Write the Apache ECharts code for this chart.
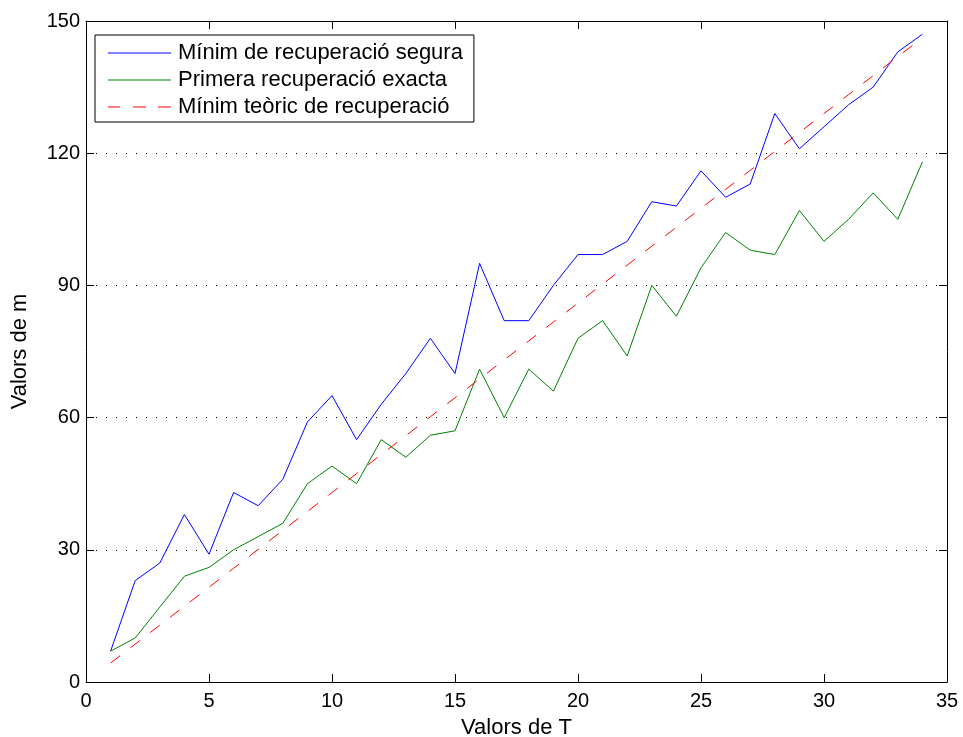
<!DOCTYPE html>
<html>
<head>
<meta charset="utf-8">
<script src="https://cdn.jsdelivr.net/npm/echarts@6/dist/echarts.min.js"></script>
<style>
  html, body { margin: 0; padding: 0; background: #fff; }
  #chart { width: 963px; height: 737px; }
</style>
</head>
<body>
<div id="chart"></div>
<script>
// Values of T on the horizontal axis
var tValues = [1, 2, 3, 4, 5, 6, 7, 8, 9, 10, 11, 12, 13, 14, 15, 16, 17,
               18, 19, 20, 21, 22, 23, 24, 25, 26, 27, 28, 29, 30, 31, 32, 33, 34];

// Minimum safe recovery
var minimSegura = [7, 23, 27, 38, 29, 43, 40, 46, 59, 65, 55, 63, 70, 78, 70, 95, 82,
                   82, 90, 97, 97, 100, 109, 108, 116, 110, 113, 129, 121, 126, 131, 135, 143, 147];

// First exact recovery
var primeraExacta = [7, 10, 17, 24, 26, 30, 33, 36, 45, 49, 45, 55, 51, 56, 57, 71, 60,
                     71, 66, 78, 82, 74, 90, 83, 94, 102, 98, 97, 107, 100, 105, 111, 105, 118];

// Theoretical minimum of recovery
var minimTeoric = [4.3, 8.6, 12.9, 17.2, 21.5, 25.8, 30.1, 34.4, 38.7, 43.0, 47.3, 51.6,
                   55.9, 60.2, 64.5, 68.8, 73.1, 77.4, 81.7, 86.0, 90.3, 94.6, 98.9, 103.2,
                   107.5, 111.8, 116.1, 120.4, 124.7, 129.0, 133.3, 137.6, 141.9, 146.2];

var seriesNames = ['Mínim de recuperació segura', 'Primera recuperació exacta', 'Mínim teòric de recuperació'];
var xTicks = { min: 0, max: 35, interval: 5 };
var yTicks = { min: 0, max: 150, interval: 30 };

function pairs(ys) {
  return tValues.map(function (t, i) { return [t, ys[i]]; });
}

var font = 'Liberation Sans, Arial, Helvetica, sans-serif';
var chart = echarts.init(document.getElementById('chart'), null, { renderer: 'canvas' });

var boxAxisLine = { show: true, onZero: false, lineStyle: { color: '#000', width: 1 } };
var tickIn = { show: true, inside: true, length: 8, lineStyle: { color: '#000', width: 1 } };

// Legend keys: a thin solid stroke, and a dashed one for the theoretical curve
var solidKey = 'path://M0,0H63V1H0Z';
var dashedKey = 'path://M0,0H12V1H0Z M25,0H38V1H25Z M50,0H63V1H50Z';

chart.setOption({
  animation: false,
  backgroundColor: '#fff',
  grid: { left: 86, right: 16, top: 21, bottom: 55, containLabel: false, outerBoundsMode: 'none' },
  legend: {
    orient: 'vertical',
    left: 95,
    top: 35,
    padding: [7, 11, 4, 13],
    itemWidth: 63,
    itemHeight: 1,
    itemGap: 5,
    borderColor: '#000',
    borderWidth: 1,
    backgroundColor: '#fff',
    itemStyle: { borderWidth: 0 },
    textStyle: { fontFamily: font, fontSize: 22, color: '#000', lineHeight: 22, padding: [0, 0, 0, 2] },
    data: [
      { name: seriesNames[0], icon: solidKey },
      { name: seriesNames[1], icon: solidKey },
      { name: seriesNames[2], icon: dashedKey }
    ]
  },
  xAxis: [{
    type: 'value',
    min: xTicks.min, max: xTicks.max, interval: xTicks.interval,
    position: 'bottom',
    name: 'Valors de T',
    nameLocation: 'middle',
    nameGap: 35,
    nameTextStyle: { fontFamily: font, fontSize: 22, color: '#000' },
    axisLine: boxAxisLine,
    axisTick: tickIn,
    axisLabel: { fontFamily: font, fontSize: 20, color: '#000', margin: 9 },
    splitLine: { show: false }
  }, {
    type: 'value',
    min: xTicks.min, max: xTicks.max, interval: xTicks.interval,
    position: 'top',
    axisLine: boxAxisLine,
    axisTick: tickIn,
    axisLabel: { show: false },
    splitLine: { show: false }
  }],
  yAxis: [{
    type: 'value',
    min: yTicks.min, max: yTicks.max, interval: yTicks.interval,
    position: 'left',
    name: 'Valors de m',
    nameLocation: 'middle',
    nameGap: 55,
    nameTextStyle: { fontFamily: font, fontSize: 22, color: '#000' },
    axisLine: boxAxisLine,
    axisTick: tickIn,
    axisLabel: { fontFamily: font, fontSize: 20, color: '#000', margin: 6 },
    splitLine: { show: true, lineStyle: { color: '#000', width: 1, type: [1, 9] } }
  }, {
    type: 'value',
    min: yTicks.min, max: yTicks.max, interval: yTicks.interval,
    position: 'right',
    axisLine: boxAxisLine,
    axisTick: tickIn,
    axisLabel: { show: false },
    splitLine: { show: false }
  }],
  series: [{
    name: seriesNames[0],
    type: 'line',
    data: pairs(minimSegura),
    symbol: 'none',
    lineStyle: { color: '#0000ff', width: 1 },
    itemStyle: { color: '#0000ff' }
  }, {
    name: seriesNames[1],
    type: 'line',
    data: pairs(primeraExacta),
    symbol: 'none',
    lineStyle: { color: '#008000', width: 1 },
    itemStyle: { color: '#008000' }
  }, {
    name: seriesNames[2],
    type: 'line',
    data: pairs(minimTeoric),
    symbol: 'none',
    lineStyle: { color: '#ff0000', width: 1, type: [12, 13] },
    itemStyle: { color: '#ff0000' }
  }]
});
</script>
</body>
</html>
